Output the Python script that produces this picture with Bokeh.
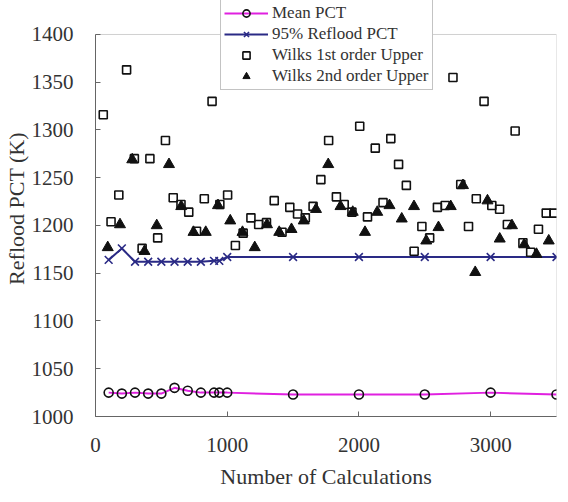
from bokeh.plotting import figure
from bokeh.models import Range1d, FixedTicker, Legend, LegendItem, BoxAnnotation
from bokeh.embed import file_html
from bokeh.resources import INLINE

# ---- data ----
calc_n = [100, 200, 300, 400, 500, 600, 700, 800, 900, 940, 1000, 1500, 2000, 2500, 3000, 3500]
mean_pct = [1025, 1024, 1025, 1024, 1024, 1030, 1027, 1025, 1025, 1025, 1025, 1023, 1023, 1023, 1025, 1023]
pct95 = [1164, 1176, 1162, 1162, 1162, 1162, 1162, 1162, 1163, 1163, 1167, 1167, 1167, 1167, 1167, 1167]

wilks1_n = [59, 118, 177, 236, 295, 354, 413, 472, 531, 590, 649, 708, 767, 826, 885, 944,
            1003, 1062, 1121, 1180, 1239, 1298, 1357, 1416, 1475, 1534, 1593, 1652, 1711, 1770,
            1829, 1888, 1947, 2006, 2065, 2124, 2183, 2242, 2301, 2360, 2419, 2478, 2537, 2596,
            2655, 2714, 2773, 2832, 2891, 2950, 3009, 3068, 3127, 3186, 3245, 3304, 3363, 3422, 3481]
wilks1 = [1316, 1204, 1232, 1363, 1270, 1176, 1270, 1187, 1289, 1229,
          1222, 1214, 1194, 1228, 1330, 1222, 1232, 1179, 1192, 1208,
          1201, 1203, 1226, 1193, 1219, 1212, 1208, 1220, 1248, 1289,
          1230, 1222, 1214, 1304, 1209, 1281, 1224, 1291, 1264, 1242,
          1173, 1199, 1187, 1219, 1221, 1355, 1243, 1199, 1228, 1330,
          1221, 1217, 1201, 1299, 1182, 1172, 1196, 1213, 1213]

wilks2_n = [93, 186, 279, 372, 465, 558, 651, 744, 837, 930, 1023, 1116, 1209, 1302, 1395,
            1488, 1581, 1674, 1767, 1860, 1953, 2046, 2139, 2232, 2325, 2418, 2511, 2604, 2697,
            2790, 2883, 2976, 3069, 3162, 3255, 3348, 3441]
wilks2 = [1177, 1201, 1269, 1173, 1200, 1264, 1220, 1193, 1193, 1221,
          1205, 1193, 1177, 1201, 1193, 1196, 1205, 1217, 1264, 1220,
          1214, 1193, 1214, 1221, 1207, 1220, 1184, 1198, 1220, 1242,
          1151, 1226, 1186, 1200, 1180, 1170, 1184]

x_ticks = [0, 1000, 2000, 3000]
y_ticks = [1000, 1050, 1100, 1150, 1200, 1250, 1300, 1350, 1400]
X_MIN, X_MAX = 0, 3500
Y_MIN, Y_MAX = 1000, 1400
Y_ROOM = 1435.6   # extra room above the axes box, so the legend can overlap its top edge

FONT = "Liberation Serif"
TXT = "#333333"
AXC = "#666666"

p = figure(width=560, height=494, output_backend="svg", toolbar_location=None,
           x_range=Range1d(X_MIN, X_MAX), y_range=Range1d(Y_MIN, Y_ROOM),
           min_border_left=89, min_border_right=4, min_border_top=0, min_border_bottom=78)

p.background_fill_color = "white"
p.border_fill_color = "white"
p.outline_line_color = None
p.grid.visible = False

# axes box drawn from the data limits
p.add_layout(BoxAnnotation(left=X_MIN, right=X_MAX, bottom=Y_MIN, top=Y_MAX,
                           fill_alpha=0, line_color=AXC, line_width=1))

p.xaxis.ticker = FixedTicker(ticks=x_ticks)
p.yaxis.ticker = FixedTicker(ticks=y_ticks)
p.yaxis.bounds = (Y_MIN, Y_MAX)
for ax in (p.xaxis[0], p.yaxis[0]):
    ax.axis_line_color = AXC
    ax.major_tick_line_color = AXC
    ax.major_tick_in = 5
    ax.major_tick_out = 0
    ax.minor_tick_line_color = None
    ax.major_label_text_font = FONT
    ax.major_label_text_font_size = "21px"
    ax.major_label_text_color = TXT
    ax.axis_label_text_font = FONT
    ax.axis_label_text_font_size = "22px"
    ax.axis_label_text_font_style = "normal"
    ax.axis_label_text_color = TXT
    ax.axis_label_text_line_height = 1.0

p.xaxis.axis_label = "Number of Calculations"
p.yaxis.axis_label = "Reflood PCT (K)"
p.xaxis.major_label_standoff = 21
p.xaxis.axis_label_standoff = 9
p.yaxis.major_label_standoff = 22
p.yaxis.axis_label_standoff = 0

mean_line = p.line(calc_n, mean_pct, line_color="#E020E0", line_width=2)
mean_mk = p.scatter(calc_n, mean_pct, marker="circle", size=9, fill_color=None,
                    line_color="#111111", line_width=1.6)
p95_line = p.line(calc_n, pct95, line_color="#2A2A85", line_width=2)
p95_mk = p.scatter(calc_n, pct95, marker="x", size=11, line_color="#2A2A85", line_width=1.6)
w1 = p.scatter(wilks1_n, wilks1, marker="square", size=8, fill_color=None,
               line_color="#111111", line_width=1.6)
w2 = p.scatter(wilks2_n, wilks2, marker="triangle", size=11, fill_color="#111111",
               line_color="#111111", line_width=1)

legend = Legend(items=[
    LegendItem(label="Mean PCT", renderers=[mean_line, mean_mk]),
    LegendItem(label="95% Reflood PCT", renderers=[p95_line, p95_mk]),
    LegendItem(label="Wilks 1st order Upper", renderers=[w1]),
    LegendItem(label="Wilks 2nd order Upper", renderers=[w2]),
], location=(125, 326))
legend.label_text_font = FONT
legend.label_text_font_size = "17px"
legend.label_text_color = TXT
legend.glyph_width = 44
legend.glyph_height = 18
legend.label_height = 18
legend.label_standoff = 4
legend.spacing = 1
legend.padding = 3
legend.margin = 0
legend.border_line_color = "#888888"
legend.border_line_width = 1
legend.background_fill_color = "white"
legend.background_fill_alpha = 1
p.add_layout(legend, "center")

open("out.html", "w").write(file_html(p, INLINE))
